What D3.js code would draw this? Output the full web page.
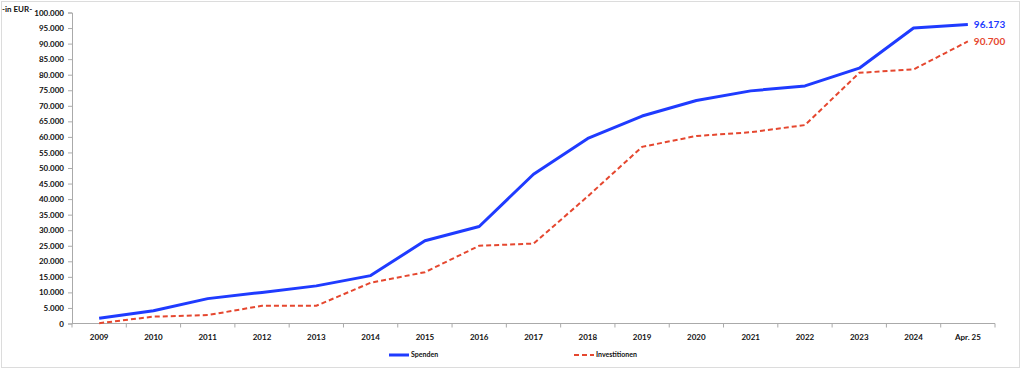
<!DOCTYPE html>
<html>
<head>
<meta charset="utf-8">
<script src="https://cdn.jsdelivr.net/npm/d3@7"></script>
<style>
    html, body { margin: 0; padding: 0; background: #fff; }
    svg { display: block; font-family: Lato, "Liberation Sans", sans-serif; }
</style>
</head>
<body>
<div id="chart"></div>
<script>
    // Spenden vs. Investitionen, kumuliert (in EUR)
    const categories = ['2009', '2010', '2011', '2012', '2013', '2014', '2015', '2016', '2017',
        '2018', '2019', '2020', '2021', '2022', '2023', '2024', 'Apr. 25'];
    const spenden = [1700, 4100, 8000, 10000, 12100, 15400, 26600, 31200, 48000,
        59500, 66700, 71700, 74800, 76400, 82100, 95000, 96173];
    const investitionen = [100, 2200, 2700, 5700, 5700, 13100, 16500, 25000, 25700,
        40900, 56800, 60300, 61500, 63800, 80600, 81700, 90700];
    const yTicks = d3.range(0, 100001, 5000);
    const legendNames = ['Spenden', 'Investitionen'];

    const W = 1024, H = 370;
    const blue = '#1f3bff', red = '#e5472f';

    const de = d3.formatLocale({decimal: ',', thousands: '.', grouping: [3], currency: ['', ' €']});
    const fmt = de.format(',d');

    const svg = d3.select('#chart').append('svg').attr('width', W).attr('height', H);

    // outer frame
    svg.append('rect')
        .attr('x', 1.5).attr('y', 1.5).attr('width', 1018).attr('height', 366)
        .attr('fill', 'none').attr('stroke', '#dcdcdc').attr('stroke-width', 1);

    const x = d3.scaleBand().domain(categories).range([72, 995]);
    const y = d3.scaleLinear().domain([0, 100000]).range([323.5, 12.5]);

    // y axis
    svg.append('g').attr('transform', 'translate(72,0)')
        .call(d3.axisLeft(y).tickValues(yTicks).tickSize(4).tickPadding(4).tickFormat(fmt))
        .call(g => {
            g.select('.domain').attr('stroke', '#aaa');
            g.selectAll('line').attr('stroke', '#aaa');
            g.selectAll('text').attr('font-size', '8px').attr('font-weight', 700).attr('fill', '#111')
                .attr('font-family', 'Lato, sans-serif');
        });

    // x axis, ticks on band boundaries
    const xAxis = svg.append('g').attr('transform', 'translate(0,323.5)');
    xAxis.append('line').attr('x1', 72).attr('x2', 995).attr('stroke', '#aaa');
    xAxis.selectAll('line.tk').data(categories.concat(['_end'])).join('line')
        .attr('class', 'tk')
        .attr('x1', (d, i) => i < categories.length ? x(d) : x.range()[1])
        .attr('x2', (d, i) => i < categories.length ? x(d) : x.range()[1])
        .attr('y1', 0).attr('y2', 4).attr('stroke', '#aaa');
    xAxis.selectAll('text').data(categories).join('text')
        .attr('x', d => x(d) + x.bandwidth() / 2).attr('y', 16)
        .attr('text-anchor', 'middle').attr('font-size', '8px').attr('font-weight', 700).attr('fill', '#111')
        .text(d => d);

    svg.append('text').attr('x', 2).attr('y', 12)
        .attr('font-size', '8px').attr('font-weight', 700).attr('fill', '#111')
        .text('-in EUR-');

    const line = d3.line()
        .x((d, i) => x(categories[i]) + x.bandwidth() / 2)
        .y(d => y(d));

    svg.append('path').datum(investitionen)
        .attr('d', line).attr('fill', 'none')
        .attr('stroke', red).attr('stroke-width', 2).attr('stroke-dasharray', '5 3');
    svg.append('path').datum(spenden)
        .attr('d', line).attr('fill', 'none')
        .attr('stroke', blue).attr('stroke-width', 3).attr('stroke-linejoin', 'round');

    // end labels
    const lastX = x(categories[categories.length - 1]) + x.bandwidth() / 2;
    [[spenden, blue], [investitionen, red]].forEach(([s, c]) => {
        const v = s[s.length - 1];
        svg.append('text')
            .attr('x', lastX + 6).attr('y', y(v)).attr('dy', '0.35em')
            .attr('font-size', '10px').attr('font-weight', 700).attr('fill', c)
            .text(fmt(v));
    });

    // legend
    const legend = [[legendNames[0], blue, null, 3, 389], [legendNames[1], red, '5 3', 2, 574]];
    legend.forEach(([name, c, dash, w, lx]) => {
        svg.append('line').attr('x1', lx).attr('x2', lx + 20).attr('y1', 355).attr('y2', 355)
            .attr('stroke', c).attr('stroke-width', w).attr('stroke-dasharray', dash);
        svg.append('text').attr('x', lx + 22).attr('y', 355).attr('dy', '0.35em')
            .attr('font-size', '7px').attr('font-weight', 700).attr('fill', '#111')
            .text(name);
    });
</script>
</body>
</html>
